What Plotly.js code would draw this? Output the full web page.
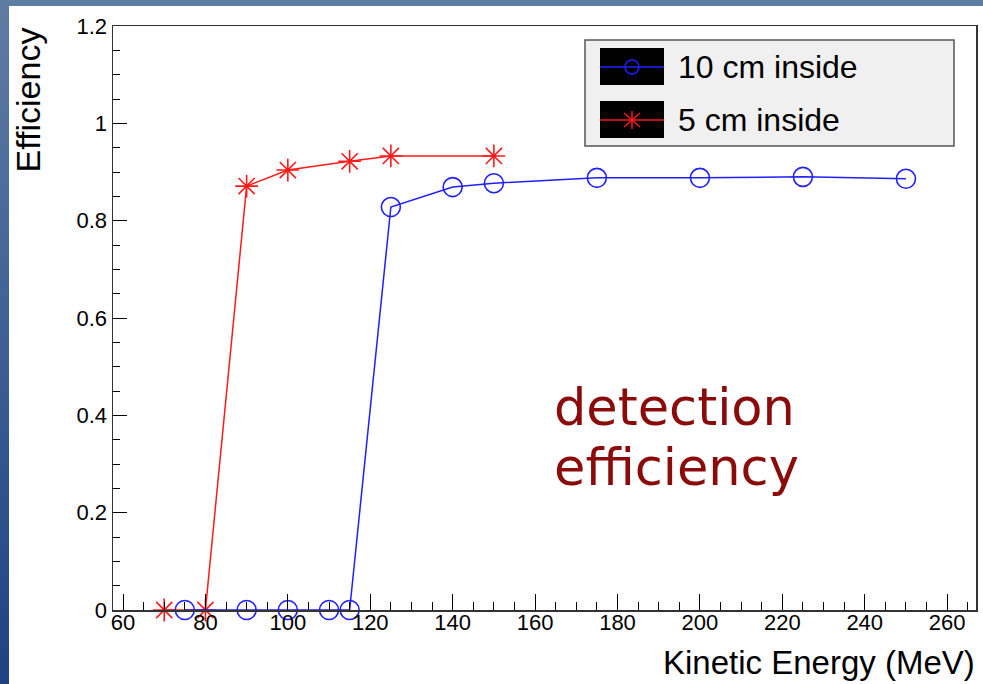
<!DOCTYPE html>
<html>
<head>
<meta charset="utf-8">
<script src="https://cdn.plot.ly/plotly-3.0.1.min.js"></script>
<style>
  html, body { margin: 0; padding: 0; width: 983px; height: 684px; overflow: hidden; }
  body { background: linear-gradient(to bottom, #5f7ca2 0%, #3d5f93 50%, #1f4183 100%); position: relative; }
  #chart { position: absolute; left: 9px; top: 6px; width: 974px; height: 678px; background: #ffffff; }
</style>
</head>
<body>
<div id="chart"></div>
<script>
// ---- data ----
const seriesNames = ["10 cm inside", "5 cm inside"];
const energy10cm = [75, 90, 100, 110, 115, 125, 140, 150, 175, 200, 225, 250];
const eff10cm    = [0, 0, 0, 0, 0, 0.828, 0.869, 0.877, 0.888, 0.888, 0.890, 0.886];
const energy5cm  = [70, 80, 90, 100, 115, 125, 150];
const eff5cm     = [0, 0, 0.871, 0.904, 0.922, 0.933, 0.933];
const xTitle = "Kinetic Energy (MeV)";
const yTitle = "Efficiency";
const noteLines = ["detection", "efficiency"];

// ---- geometry helpers (page pixels -> paper coords) ----
const divLeft = 9, divTop = 6;
const plotL = 113, plotR = 976, plotT = 26, plotB = 610;
const W = 974, H = 678;
const px = x => (x - plotL) / (plotR - plotL);
const py = y => (plotB - y) / (plotB - plotT);

const blue = "#1f1fff", red = "#ff1a1a";
const font = "Liberation Sans, Arial, Helvetica, sans-serif";

const traces = [
  {
    x: energy5cm, y: eff5cm, name: seriesNames[1], type: "scatter", mode: "lines+markers",
    line: { color: red, width: 1.5 },
    marker: { symbol: "asterisk-open", size: 19, color: red, line: { color: red, width: 1.6 } },
    showlegend: false, cliponaxis: false
  },
  {
    x: energy10cm, y: eff10cm, name: seriesNames[0], type: "scatter", mode: "lines+markers",
    line: { color: blue, width: 1.5 },
    marker: { symbol: "circle-open", size: 19, color: blue, line: { color: blue, width: 1.6 } },
    showlegend: false, cliponaxis: false
  }
];

// legend drawn as layout decoration
const shapes = [
  { type: "rect", xref: "paper", yref: "paper", x0: px(585), x1: px(954), y0: py(146), y1: py(40),
    fillcolor: "#f0f0f0", line: { color: "#555", width: 1.5 }, layer: "above" },
  { type: "rect", xref: "paper", yref: "paper", x0: px(600), x1: px(664), y0: py(85), y1: py(48),
    fillcolor: "#000", line: { width: 0 }, layer: "above" },
  { type: "rect", xref: "paper", yref: "paper", x0: px(600), x1: px(664), y0: py(138), y1: py(101),
    fillcolor: "#000", line: { width: 0 }, layer: "above" },
  { type: "line", xref: "paper", yref: "paper", x0: px(600), x1: px(664), y0: py(67), y1: py(67),
    line: { color: blue, width: 1.5 }, layer: "above" },
  { type: "circle", xref: "paper", yref: "paper", x0: px(625), x1: px(639), y0: py(74), y1: py(60),
    line: { color: blue, width: 1.5 }, layer: "above" },
  { type: "line", xref: "paper", yref: "paper", x0: px(600), x1: px(664), y0: py(120), y1: py(120),
    line: { color: red, width: 1.5 }, layer: "above" },
  { type: "line", xref: "paper", yref: "paper", x0: px(632), x1: px(632), y0: py(111), y1: py(129),
    line: { color: red, width: 1.5 }, layer: "above" },
  { type: "line", xref: "paper", yref: "paper", x0: px(624), x1: px(640), y0: py(113), y1: py(127),
    line: { color: red, width: 1.5 }, layer: "above" },
  { type: "line", xref: "paper", yref: "paper", x0: px(624), x1: px(640), y0: py(127), y1: py(113),
    line: { color: red, width: 1.5 }, layer: "above" }
];

const annotations = [
  { text: seriesNames[0], xref: "paper", yref: "paper", x: px(676), y: py(67), xanchor: "left", yanchor: "middle",
    showarrow: false, font: { family: font, size: 32, color: "#000" } },
  { text: seriesNames[1], xref: "paper", yref: "paper", x: px(676), y: py(120), xanchor: "left", yanchor: "middle",
    showarrow: false, font: { family: font, size: 32, color: "#000" } },
  { text: noteLines[0], xref: "paper", yref: "paper", x: px(552), y: py(407), xanchor: "left", yanchor: "middle",
    showarrow: false, font: { family: "DejaVu Sans, sans-serif", size: 51, color: "#8b0a0a" } },
  { text: noteLines[1], xref: "paper", yref: "paper", x: px(552), y: py(467), xanchor: "left", yanchor: "middle",
    showarrow: false, font: { family: "DejaVu Sans, sans-serif", size: 51, color: "#8b0a0a" } },
  { text: xTitle, xref: "paper", yref: "paper", x: px(977), y: py(662), xanchor: "right", yanchor: "middle",
    showarrow: false, font: { family: font, size: 33, color: "#000" } },
  { text: yTitle, xref: "paper", yref: "paper", x: px(27), y: py(26), xanchor: "center", yanchor: "top",
    textangle: -90, showarrow: false, font: { family: font, size: 34, color: "#000" } }
];

const layout = {
  width: W, height: H,
  margin: { l: plotL - divLeft, r: W - (plotR - divLeft), t: plotT - divTop, b: H - (plotB - divTop), pad: 0 },
  paper_bgcolor: "#ffffff", plot_bgcolor: "#ffffff",
  showlegend: false,
  xaxis: {
    range: [57.57, 267], tick0: 60, dtick: 20, ticks: "inside", ticklen: 16, tickwidth: 1, tickcolor: "#000",
    minor: { dtick: 5, ticks: "inside", ticklen: 8, tickwidth: 1, tickcolor: "#000", showgrid: false },
    showgrid: false, zeroline: false, showline: true, mirror: true, linecolor: "#333", linewidth: 1.5,
    tickfont: { family: font, size: 22, color: "#000" }, ticklabelstandoff: -8
  },
  yaxis: {
    range: [0, 1.2], tick0: 0, dtick: 0.2, ticks: "inside", ticklen: 14, tickwidth: 1, tickcolor: "#000",
    minor: { dtick: 0.05, ticks: "inside", ticklen: 7, tickwidth: 1, tickcolor: "#000", showgrid: false },
    showgrid: false, zeroline: false, showline: true, mirror: true, linecolor: "#333", linewidth: 1.5,
    tickfont: { family: font, size: 22, color: "#000" }
  },
  shapes: shapes,
  annotations: annotations
};

Plotly.newPlot("chart", traces, layout, { displayModeBar: false, staticPlot: true });
</script>
</body>
</html>
